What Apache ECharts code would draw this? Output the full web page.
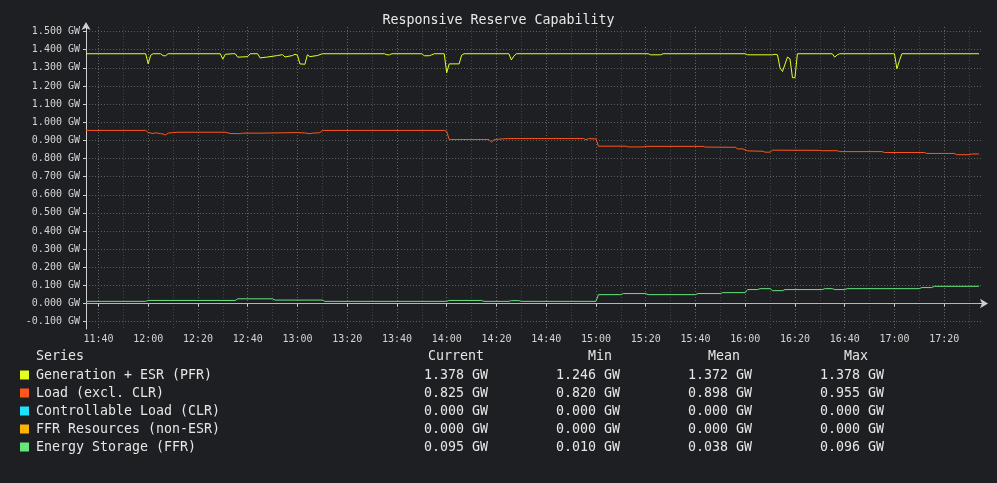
<!DOCTYPE html>
<html>
<head>
<meta charset="utf-8">
<title>Responsive Reserve Capability</title>
<script src="https://cdn.jsdelivr.net/npm/echarts@6/dist/echarts.min.js"></script>
<style>
html,body{margin:0;padding:0;background:#1e1f22;}
#chart{width:997px;height:483px;}
</style>
</head>
<body>
<div id="chart"></div>
<script>
// series names and colours
var seriesNames = ['Generation + ESR (PFR)', 'Load (excl. CLR)', 'Controllable Load (CLR)', 'FFR Resources (non-ESR)', 'Energy Storage (FFR)'];
var seriesColors = ['#e4ff1c', '#ff561c', '#1ce4ff', '#ffb400', '#66e67a'];

// legend table values (GW)
var currentVals = [1.378, 0.825, 0.000, 0.000, 0.095];
var minVals     = [1.246, 0.820, 0.000, 0.000, 0.010];
var meanVals    = [1.372, 0.898, 0.000, 0.000, 0.038];
var maxVals     = [1.378, 0.955, 0.000, 0.000, 0.096];

// Generation + ESR (PFR)
var genTimes = ['11:35','11:59','12:00','12:01','12:02','12:05','12:06','12:07','12:08','12:29','12:30','12:31','12:34','12:35','12:36','12:40','12:41','12:44','12:45','12:48','12:52','12:54','12:55','12:58','12:59','13:00','13:01','13:03','13:04','13:05','13:08','13:10',
  '13:35','13:36','13:37','13:38','13:50','13:51','13:53','13:54','13:55','13:59','14:00','14:01','14:05','14:06','14:07','14:25','14:26','14:27','14:28',
  '15:21','15:22','15:26','15:27','16:00','16:01','16:11','16:12','16:13','16:14','16:15','16:17','16:18','16:19','16:20','16:21',
  '16:35','16:36','16:37','16:38','17:00','17:01','17:02','17:03','17:34'];
var genVals = [1.378,1.378,1.322,1.370,1.378,1.378,1.367,1.367,1.378,1.378,1.348,1.375,1.378,1.378,1.359,1.362,1.378,1.378,1.355,1.360,1.368,1.373,1.360,1.368,1.375,1.370,1.322,1.320,1.372,1.362,1.368,1.378,
  1.378,1.372,1.372,1.378,1.378,1.367,1.367,1.372,1.378,1.378,1.273,1.322,1.322,1.370,1.378,1.378,1.344,1.365,1.378,
  1.378,1.372,1.372,1.378,1.378,1.372,1.372,1.375,1.372,1.300,1.280,1.360,1.350,1.246,1.246,1.378,
  1.378,1.359,1.372,1.378,1.378,1.295,1.340,1.378,1.378];

// Load (excl. CLR)
var loadTimes = ['11:35','11:59','12:00','12:02','12:03','12:05','12:06','12:07','12:08','12:10','12:12','12:31','12:33','12:37','12:38','12:45','12:55','13:00','13:03','13:05','13:06','13:09','13:10',
  '13:59','14:00','14:01','14:17','14:18','14:19','14:21','14:25','14:55','14:56','14:57','15:00','15:01','15:12','15:13','15:19','15:20','15:43','15:44','15:56','15:57','15:59','16:01','16:07','16:08','16:10','16:11',
  '16:30','16:31','16:37','16:38','16:55','16:56','17:12','17:13','17:24','17:25','17:30','17:31','17:34'];
var loadVals = [0.955,0.955,0.943,0.938,0.942,0.937,0.935,0.930,0.940,0.943,0.945,0.945,0.938,0.937,0.940,0.940,0.942,0.943,0.941,0.937,0.940,0.942,0.955,
  0.955,0.950,0.905,0.905,0.890,0.903,0.907,0.910,0.910,0.903,0.910,0.908,0.868,0.868,0.864,0.864,0.867,0.867,0.863,0.862,0.853,0.853,0.842,0.840,0.835,0.835,0.846,
  0.845,0.843,0.843,0.838,0.838,0.833,0.833,0.828,0.828,0.821,0.821,0.825,0.825];

// Controllable Load (CLR) and FFR Resources (non-ESR)
var clrTimes = ['11:35','17:34'];
var clrVals = [0.000, 0.000];
var ffrTimes = ['11:35','17:34'];
var ffrVals = [0.000, 0.000];

// Energy Storage (FFR)
var essTimes = ['11:35','11:59','12:00','12:35','12:36','12:50','12:51','13:10','13:11','14:00','14:01','14:14','14:15','14:25','14:26','14:29','14:30','15:00','15:01','15:10','15:11','15:20','15:21','15:40','15:41','15:50','15:51','16:00','16:01','16:05','16:06','16:10','16:11','16:15','16:16','16:31','16:32','16:35','16:36','16:40','16:41','17:10','17:11','17:15','17:16','17:34'];
var essVals = [0.012,0.012,0.017,0.017,0.026,0.026,0.019,0.019,0.012,0.012,0.017,0.017,0.012,0.012,0.016,0.016,0.012,0.012,0.049,0.049,0.055,0.055,0.049,0.049,0.055,0.055,0.060,0.060,0.077,0.077,0.082,0.082,0.071,0.071,0.077,0.077,0.082,0.082,0.077,0.077,0.082,0.082,0.088,0.088,0.095,0.095];

// axis tick labels
var xTickLabels = ['11:40','12:00','12:20','12:40','13:00','13:20','13:40','14:00','14:20','14:40','15:00','15:20','15:40','16:00','16:20','16:40','17:00','17:20'];
var yTickValues = [-0.1, 0, 0.1, 0.2, 0.3, 0.4, 0.5, 0.6, 0.7, 0.8, 0.9, 1.0, 1.1, 1.2, 1.3, 1.4, 1.5];

var FONT = 'DejaVu Sans Mono';

function toMin(s) {
    var p = s.split(':');
    return parseInt(p[0], 10) * 60 + parseInt(p[1], 10);
}
function fmtMin(m) {
    var h = Math.floor(m / 60), mm = Math.round(m % 60);
    return h + ':' + (mm < 10 ? '0' : '') + mm;
}
function pairs(times, vals) {
    var out = [];
    for (var i = 0; i < times.length; i++) {
        out.push([toMin(times[i]), vals[i]]);
    }
    return out;
}

var xMin = toMin('11:35');
var xMax = toMin('17:35') + 0.6;
var xMajor = xTickLabels.map(toMin);
var xMinor = [];
for (var m = xMajor[0] - 10; m <= xMax; m += 10) {
    if (xMajor.indexOf(m) < 0 && m > xMin) xMinor.push(m);
}

var allTimes = [genTimes, loadTimes, clrTimes, ffrTimes, essTimes];
var allVals = [genVals, loadVals, clrVals, ffrVals, essVals];

var series = [];
for (var i = 0; i < seriesNames.length; i++) {
    series.push({
        name: seriesNames[i],
        type: 'line',
        xAxisIndex: 0,
        yAxisIndex: 0,
        showSymbol: false,
        symbol: 'none',
        lineStyle: {width: 1, color: seriesColors[i]},
        itemStyle: {color: seriesColors[i]},
        data: pairs(allTimes[i], allVals[i])
    });
}

// legend table drawn as text
var graphics = [];
var rowY0 = 375.5, rowH = 18;
function txt(x, y, s, align) {
    return {type: 'text', x: x, y: y, silent: true,
        style: {text: s, fill: '#e6e6e6', font: '13.3px "' + FONT + '"', textAlign: align, textVerticalAlign: 'middle'}};
}
graphics.push(txt(36, 357, 'Series', 'left'));
graphics.push(txt(456, 357, 'Current', 'center'));
graphics.push(txt(600, 357, 'Min', 'center'));
graphics.push(txt(724, 357, 'Mean', 'center'));
graphics.push(txt(856, 357, 'Max', 'center'));
for (var r = 0; r < seriesNames.length; r++) {
    var yy = rowY0 + r * rowH;
    graphics.push({type: 'rect', silent: true, shape: {x: 20, y: yy - 5, width: 9, height: 9}, style: {fill: seriesColors[r]}});
    graphics.push(txt(36, yy, seriesNames[r], 'left'));
    graphics.push(txt(488, yy, currentVals[r].toFixed(3) + ' GW', 'right'));
    graphics.push(txt(620, yy, minVals[r].toFixed(3) + ' GW', 'right'));
    graphics.push(txt(752, yy, meanVals[r].toFixed(3) + ' GW', 'right'));
    graphics.push(txt(884, yy, maxVals[r].toFixed(3) + ' GW', 'right'));
}

var myChart = echarts.init(document.getElementById('chart'));
var option = {
    backgroundColor: '#1e1f22',
    animation: false,
    title: {
        text: 'Responsive Reserve Capability',
        left: 'center',
        top: 9,
        textStyle: {color: '#e8e8e8', fontFamily: FONT, fontSize: 13.3, fontWeight: 'normal'}
    },
    grid: {left: 86, right: 14, top: 27, bottom: 154, containLabel: false},
    xAxis: [
        {
            type: 'value',
            min: xMin,
            max: xMax,
            axisLine: {show: true, lineStyle: {color: '#d0d0d0', width: 1}, symbol: ['none', 'arrow'], symbolSize: [7, 8], symbolOffset: [0, 5]},
            axisTick: {show: true, length: 3, lineStyle: {color: '#d0d0d0'}, customValues: xMajor},
            axisLabel: {customValues: xMajor, color: '#d4d4d4', fontFamily: FONT, fontSize: 10, margin: 5,
                formatter: function (v) { return fmtMin(v); }},
            splitLine: {show: true, lineStyle: {color: '#666', type: [1, 2], width: 1}}
        },
        {
            type: 'value',
            min: xMin,
            max: xMax,
            position: 'bottom',
            axisLine: {show: false},
            axisTick: {show: false, customValues: xMinor},
            axisLabel: {show: false, customValues: xMinor},
            splitLine: {show: true, lineStyle: {color: '#444', type: [1, 2], width: 1}}
        }
    ],
    yAxis: {
        type: 'value',
        min: -0.1405,
        max: 1.5255,
        axisLine: {show: true, lineStyle: {color: '#d0d0d0', width: 1}, symbol: ['none', 'arrow'], symbolSize: [7, 8], symbolOffset: [0, 5]},
        axisTick: {show: true, length: 3, lineStyle: {color: '#d0d0d0'}, customValues: yTickValues},
        axisLabel: {customValues: yTickValues, color: '#d4d4d4', fontFamily: FONT, fontSize: 10, margin: 6,
            padding: [3, 0, 0, 0],
            formatter: function (v) { return v.toFixed(3) + ' GW'; }},
        splitLine: {show: true, lineStyle: {color: '#5e5e5e', type: [1, 2], width: 1}}
    },
    series: series,
    graphic: graphics
};
myChart.setOption(option);
</script>
</body>
</html>
